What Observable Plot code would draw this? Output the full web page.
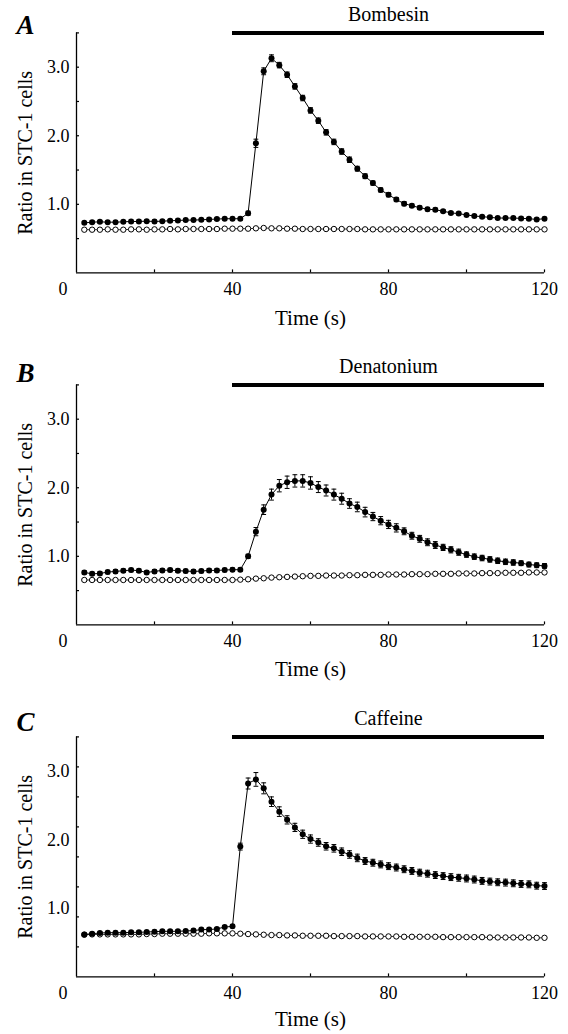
<!DOCTYPE html>
<html>
<head>
<meta charset="utf-8">
<script src="https://cdn.jsdelivr.net/npm/d3@7"></script>
<script src="https://cdn.jsdelivr.net/npm/@observablehq/plot@0.6"></script>
<style>
  html, body { margin: 0; padding: 0; background: #fff; }
  #chart svg { display: block; }
  #chart svg, #chart svg text { font-family: "Liberation Serif", "Times New Roman", serif !important; }
</style>
</head>
<body>
<div id="chart"></div>
<script>
// ---- data ----
const time = [2,4,6,8,10,12,14,16,18,20,22,24,26,28,30,32,34,36,38,40,
  42,44,46,48,50,52,54,56,58,60,62,64,66,68,70,72,74,76,78,80,
  82,84,86,88,90,92,94,96,98,100,102,104,106,108,110,112,114,116,118,120];

const xTickValues = [20,40,60,80,100,120];
const xLabelValues = [40,80,120];
const xZeroLabel = [0];
const yLabelValues = [1,2,3];
const yTicksAB = [0.5,1,1.5,2,2.5,3,3.5];
const yTicksC = [0.4375,0.875,1.3125,1.75,2.1875,2.625,3.0625,3.5];

const stimStart = 40, stimEnd = 120, stimLevel = 3.5;
const letters = ["A","B","C"];
const stimNames = ["Bombesin","Denatonium","Caffeine"];

const filledA = [0.73,0.74,0.745,0.74,0.74,0.745,0.75,0.75,0.755,0.75,0.755,0.76,0.765,0.77,0.77,0.775,0.78,0.785,0.79,0.79,0.79,
  0.87,1.89,2.94,3.13,3.03,2.89,2.72,2.55,2.37,2.22,2.05,1.91,1.77,1.65,1.52,1.41,1.31,1.21,1.14,1.07,1.01,0.98,0.95,0.93,0.92,0.90,0.875,0.865,0.845,0.83,0.82,0.81,0.80,0.80,0.80,0.795,0.79,0.78,0.79];
const seA = [0.02,0.02,0.02,0.02,0.02,0.02,0.02,0.02,0.02,0.02,0.02,0.02,0.02,0.02,0.02,0.02,0.02,0.02,0.02,0.02,0.02,
  0.03,0.06,0.05,0.05,0.04,0.04,0.04,0.04,0.04,0.04,0.04,0.04,0.04,0.04,0.035,0.035,0.03,0.03,0.03,0.03,0.03,0.025,0.025,0.025,0.025,0.02,0.02,0.02,0.02,0.02,0.02,0.02,0.02,0.02,0.02,0.02,0.02,0.02,0.02];
const openA = [0.63,0.63,0.63,0.635,0.63,0.63,0.635,0.635,0.63,0.635,0.635,0.64,0.635,0.64,0.64,
  0.64,0.64,0.64,0.645,0.645,0.645,0.645,
  0.65,0.655,0.65,0.65,
  0.645,0.645,0.64,0.64,0.64,0.64,0.64,0.64,0.64,0.64,0.635,0.635,0.635,0.635,0.635,0.635,0.635,0.635,0.635,0.635,0.635,0.635,0.635,0.635,0.635,0.635,0.635,0.635,0.635,0.635,0.635,0.635,0.635,0.635];

const filledB = [0.765,0.745,0.75,0.77,0.78,0.79,0.80,0.79,0.765,0.78,0.795,0.80,0.79,0.785,0.78,0.785,0.795,0.795,0.80,0.805,0.805,
  1.0,1.36,1.68,1.90,2.03,2.08,2.10,2.10,2.07,2.01,1.96,1.90,1.84,1.77,1.72,1.645,1.58,1.52,1.465,1.415,1.365,1.30,1.255,1.205,1.165,1.13,1.095,1.06,1.025,0.995,0.975,0.955,0.935,0.92,0.91,0.90,0.88,0.87,0.86];
const seB = [0.025,0.025,0.025,0.025,0.025,0.025,0.025,0.025,0.025,0.025,0.025,0.025,0.025,0.025,0.025,0.025,0.025,0.025,0.025,0.025,0.025,
  0.03,0.06,0.07,0.08,0.09,0.09,0.09,0.09,0.09,0.08,0.08,0.08,0.08,0.07,0.07,0.07,0.06,0.06,0.06,0.06,0.05,0.05,0.05,0.05,0.05,0.045,0.045,0.045,0.04,0.04,0.04,0.04,0.04,0.04,0.04,0.035,0.035,0.035,0.035];
const openB = [0.655,0.655,0.655,0.655,0.655,0.655,0.655,0.655,0.655,0.655,0.655,0.655,0.655,0.655,0.655,0.655,0.655,0.655,0.655,0.655,
  0.66,0.665,0.675,0.68,0.69,0.695,0.70,0.705,0.71,0.715,0.715,0.72,0.72,0.72,0.725,0.725,0.73,0.73,0.73,0.735,
  0.735,0.735,0.74,0.74,0.74,0.745,0.745,0.745,0.75,0.75,0.75,0.755,0.755,0.755,0.76,0.76,0.76,0.765,0.765,0.765];

const filledC = [0.62,0.63,0.64,0.645,0.645,0.645,0.65,0.65,0.655,0.66,0.665,0.665,0.665,0.67,0.675,0.69,0.69,0.70,0.727,0.737,
  1.90,2.82,2.88,2.75,2.555,2.41,2.29,2.18,2.08,2.01,1.96,1.905,1.875,1.825,1.785,1.735,1.69,1.665,1.64,1.615,
  1.595,1.57,1.545,1.52,1.505,1.485,1.47,1.455,1.445,1.435,1.42,1.40,1.39,1.38,1.375,1.365,1.355,1.35,1.33,1.325];
const seC = [0.02,0.02,0.02,0.02,0.02,0.02,0.02,0.02,0.02,0.02,0.02,0.02,0.02,0.02,0.02,0.02,0.02,0.02,0.02,0.02,
  0.05,0.08,0.1,0.08,0.07,0.07,0.06,0.06,0.06,0.06,0.055,0.055,0.055,0.055,0.055,0.055,0.05,0.05,0.05,0.05,
  0.05,0.05,0.05,0.05,0.05,0.05,0.05,0.05,0.05,0.05,0.05,0.05,0.05,0.05,0.05,0.05,0.05,0.05,0.05,0.05];
const openC = [0.615,0.62,0.62,0.62,0.62,0.62,0.62,0.62,0.625,0.625,0.63,0.63,0.63,0.63,0.63,0.63,0.635,0.635,0.635,0.635,
  0.63,0.625,0.62,0.615,0.61,0.61,0.605,0.605,0.60,0.60,0.60,0.60,0.595,0.595,0.595,0.595,0.59,0.59,0.59,0.59,
  0.59,0.585,0.585,0.585,0.585,0.585,0.58,0.58,0.58,0.58,0.58,0.58,0.575,0.575,0.575,0.575,0.575,0.575,0.57,0.57];

// ---- build ----
const panels = [
  {letter: letters[0], stim: stimNames[0], filled: filledA, se: seA, open: openA, yTicks: yTicksAB, letterDy: -8, titleDy: 45},
  {letter: letters[1], stim: stimNames[1], filled: filledB, se: seB, open: openB, yTicks: yTicksAB, letterDy: -12, titleDy: 44},
  {letter: letters[2], stim: stimNames[2], filled: filledC, se: seC, open: openC, yTicks: yTicksC, letterDy: -15, titleDy: 42}
];
for (const p of panels) {
  for (const k of ["filled","se","open"]) if (p[k].length !== time.length) throw new Error(p.letter + " " + k + " length " + p[k].length);
}

const capSymbol = {draw(ctx, size) { const r = Math.sqrt(size / Math.PI); ctx.moveTo(-r, 0); ctx.lineTo(r, 0); }};

const W = 568, ML = 76, MR = 24, MT = 32.4, PH = 240;
const serif = "Liberation Serif";

function panel(p, height) {
  const rows = time.map((t, i) => ({t, v: p.filled[i], se: p.se[i], o: p.open[i]}));
  return Plot.plot({
    width: W, height,
    marginLeft: ML, marginRight: MR, marginTop: MT, marginBottom: height - MT - PH,
    x: {domain: [0, 120], axis: null},
    y: {domain: [0, 3.5], axis: null},
    style: {fontSize: "18px", color: "black", background: "white", overflow: "visible"},
    marks: [
      Plot.ruleX([0], {strokeWidth: 1.3}),
      Plot.ruleY([0], {strokeWidth: 1.3}),
      Plot.tickX(xTickValues, {x: d => d, insetTop: PH - 3, strokeWidth: 1.2}),
      Plot.tickY(p.yTicks, {y: d => d, insetRight: (W - ML - MR) - 3, strokeWidth: 1.2}),
      // tick labels
      Plot.text(xLabelValues, {x: d => d, frameAnchor: "bottom", lineAnchor: "middle", textAnchor: "middle", dy: 16.6, text: d => String(d), fontSize: 18, fontFamily: serif}),
      Plot.text(xZeroLabel, {x: d => d, frameAnchor: "bottom", lineAnchor: "middle", textAnchor: "middle", dy: 16.6, dx: -13.5, text: d => String(d), fontSize: 18, fontFamily: serif}),
      Plot.text(yLabelValues, {y: d => d, frameAnchor: "left", lineAnchor: "middle", textAnchor: "end", dx: -7, text: d => d.toFixed(1), fontSize: 18, fontFamily: serif}),
      // titles
      Plot.text(["Time (s)"], {frameAnchor: "bottom", lineAnchor: "middle", textAnchor: "middle", dy: p.titleDy, fontSize: 21, fontFamily: serif}),
      Plot.text(["Ratio in STC-1 cells"], {frameAnchor: "left", lineAnchor: "middle", textAnchor: "middle", dx: -51, rotate: -90, fontSize: 20, fontFamily: serif}),
      Plot.text([p.letter], {frameAnchor: "top-left", lineAnchor: "middle", textAnchor: "start", dx: -60, dy: p.letterDy, fontSize: 27, fontWeight: "bold", fontStyle: "italic", fontFamily: serif}),
      Plot.ruleY([p], {y: () => stimLevel, x1: () => stimStart, x2: () => stimEnd, strokeWidth: 4}),
      Plot.text([p.stim], {x: () => (stimStart + stimEnd) / 2, frameAnchor: "top", lineAnchor: "middle", textAnchor: "middle", dy: -18, fontSize: 20, fontFamily: serif}),
      // open (control) series
      Plot.line(rows, {x: "t", y: "o", stroke: "black", strokeWidth: 0.8}),
      Plot.dot(rows, {x: "t", y: "o", r: 2.7, fill: "white", stroke: "black", strokeWidth: 1}),
      // filled series with SEM bars
      Plot.ruleX(rows, {x: "t", y1: d => d.v - d.se, y2: d => d.v + d.se, strokeWidth: 1}),
      Plot.dot(rows, {x: "t", y: d => d.v + d.se, symbol: capSymbol, r: 2.4, stroke: "black", strokeWidth: 1}),
      Plot.dot(rows, {x: "t", y: d => d.v - d.se, symbol: capSymbol, r: 2.4, stroke: "black", strokeWidth: 1}),
      Plot.line(rows, {x: "t", y: "v", stroke: "black", strokeWidth: 1}),
      Plot.dot(rows, {x: "t", y: "v", r: 3, fill: "black", stroke: "none"})
    ]
  });
}

const chart = document.getElementById("chart");
chart.appendChild(panel(panels[0], 352));
chart.appendChild(panel(panels[1], 352));
chart.appendChild(panel(panels[2], 330));
</script>
</body>
</html>
